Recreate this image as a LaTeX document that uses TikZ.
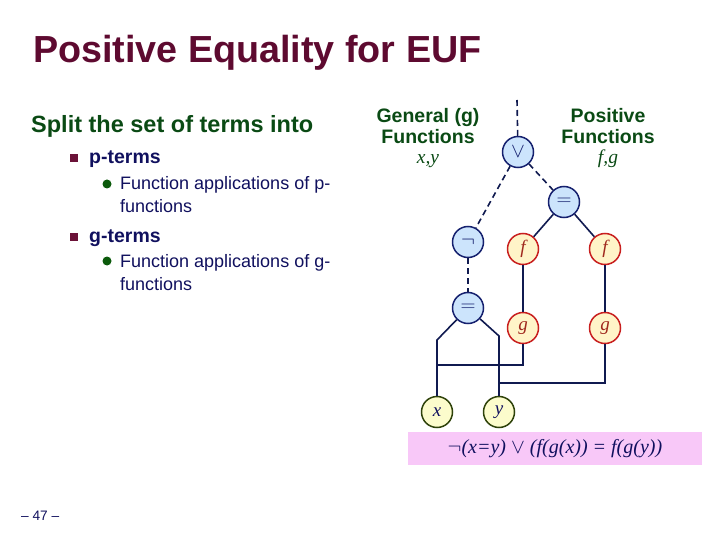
\documentclass[tikz,border=0pt]{standalone}
\usepackage{fontspec}
\setmainfont{Liberation Sans}
\newfontfamily\timesit{Liberation Serif}
\usetikzlibrary{positioning}
\definecolor{slidetitle}{HTML}{5E0A30}
\definecolor{headgreen}{HTML}{0A4A14}
\definecolor{textnavy}{HTML}{10105E}
\definecolor{bulletsq}{HTML}{6B1238}
\definecolor{bulletdot}{HTML}{0B5A0B}
\definecolor{opline}{HTML}{15206E}
\definecolor{opfill}{HTML}{CCE4FC}
\definecolor{fline}{HTML}{C81E1E}
\definecolor{ffill}{HTML}{FFF4C8}
\definecolor{ftext}{HTML}{A0281E}
\definecolor{vline}{HTML}{2E420A}
\definecolor{vfill}{HTML}{FCFCCC}
\definecolor{wirec}{HTML}{101A50}
\definecolor{formbox}{HTML}{F8C8F8}
\newcommand{\fsz}[1]{\fontsize{#1}{#1}\selectfont}

\tikzset{
  opnode/.style={circle,draw=opline,fill=opfill,line width=1.5pt,minimum size=31pt,inner sep=0pt,text=opline,font=\fsz{20}},
  fnnode/.style={circle,draw=fline,fill=ffill,line width=1.5pt,minimum size=31pt,inner sep=0pt,text=ftext,font=\fsz{19}\timesit\itshape},
  varnode/.style={circle,draw=vline,fill=vfill,line width=1.5pt,minimum size=31pt,inner sep=0pt,text=textnavy,font=\fsz{19}\timesit\itshape},
  wire/.style={draw=wirec,line width=1.6pt},
  dwire/.style={wire,dash pattern=on 6pt off 4pt},
  txt/.style={anchor=base west,inner sep=0pt}
}

\begin{document}
\begin{tikzpicture}[x=1pt,y=-1pt]
  \useasboundingbox (0,0) rectangle (720,540);

  % title and bullet list
  \node[txt,font=\fsz{37.7}\bfseries,text=slidetitle] (title) at (33,62.5) {Positive Equality for EUF};
  \node[txt,font=\fsz{23.5}\bfseries,text=headgreen] (split) at (31,133) {Split the set of terms into};
  \node[fill=bulletsq,minimum size=8pt,inner sep=0pt] (sqp) at (74,158) {};
  \node[txt,font=\fsz{19.5}\bfseries,text=textnavy] (pterms) at (89,164) {p-terms};
  \node[circle,fill=bulletdot,minimum size=9pt,inner sep=0pt] (dotp) at (107,184) {};
  \node[txt,font=\fsz{18},text=textnavy] (papp) at (120,190) {Function applications of p-};
  \node[txt,font=\fsz{18},text=textnavy] (pfun) at (120,213) {functions};
  \node[fill=bulletsq,minimum size=8pt,inner sep=0pt] (sqg) at (74,237) {};
  \node[txt,font=\fsz{19.5}\bfseries,text=textnavy] (gterms) at (89,243) {g-terms};
  \node[circle,fill=bulletdot,minimum size=9pt,inner sep=0pt] (dotg) at (107,261) {};
  \node[txt,font=\fsz{18},text=textnavy] (gapp) at (120,267) {Function applications of g-};
  \node[txt,font=\fsz{18},text=textnavy] (gfun) at (120,290) {functions};

  % column headers
  \node[anchor=base,inner sep=0pt,font=\fsz{19.5}\bfseries,text=headgreen] (genh) at (428,123) {General (g)};
  \node[anchor=base,inner sep=0pt,font=\fsz{19.5}\bfseries,text=headgreen] (genf) at (428,144) {Functions};
  \node[anchor=base,inner sep=0pt,font=\fsz{19.5}\timesit\itshape,text=headgreen] (genv) at (428,164) {x,y};
  \node[anchor=base,inner sep=0pt,font=\fsz{19.5}\bfseries,text=headgreen] (posh) at (608,123) {Positive};
  \node[anchor=base,inner sep=0pt,font=\fsz{19.5}\bfseries,text=headgreen] (posf) at (608,144) {Functions};
  \node[anchor=base,inner sep=0pt,font=\fsz{19.5}\timesit\itshape,text=headgreen] (posv) at (608,164) {f,g};

  % term DAG
  \coordinate (root) at (517,100);
  \node[opnode] (orn) at (518,152) {$\vee$};
  \node[opnode] (eqp) at (564,202) {$=$};
  \node[opnode] (notn) at (468,242) {$\neg$};
  \node[opnode] (eqg) at (468,308) {$=$};
  \node[fnnode] (f1) at (523,249) {f};
  \node[fnnode] (f2) at (605,249) {f};
  \node[fnnode] (g1) at (523,328) {g};
  \node[fnnode] (g2) at (605,328) {g};
  \node[varnode] (vx) at (437,412) {x};
  \node[varnode] (vy) at (499,412) {y};
  \coordinate (xk) at (437,340);
  \coordinate (yk) at (499,336);
  \coordinate (gx) at (437,365);
  \coordinate (gy) at (499,383);

  \draw[dwire] (root) -- (orn);
  \draw[dwire] (orn) -- (notn);
  \draw[dwire] (orn) -- (eqp);
  \draw[dwire] (notn) -- (eqg);
  \draw[wire] (eqp) -- (f1);
  \draw[wire] (eqp) -- (f2);
  \draw[wire] (f1) -- (g1);
  \draw[wire] (f2) -- (g2);
  \draw[wire] (eqg) -- (xk) -- (vx);
  \draw[wire] (eqg) -- (yk) -- (vy);
  \draw[wire] (g1) |- (gx);
  \draw[wire] (g2) |- (gy);

  % formula
  \node[fill=formbox,minimum width=294pt,minimum height=33pt,inner sep=0pt,font=\fsz{20}\timesit\itshape,text=textnavy] (formula) at (555,448.5)
    {$\neg$(x=y) $\vee$\ (f(g(x)) = f(g(y))};

  \node[txt,font=\fsz{13.7},text=textnavy] (pagenum) at (21,520) {-- 47 --};
\end{tikzpicture}
\end{document}
